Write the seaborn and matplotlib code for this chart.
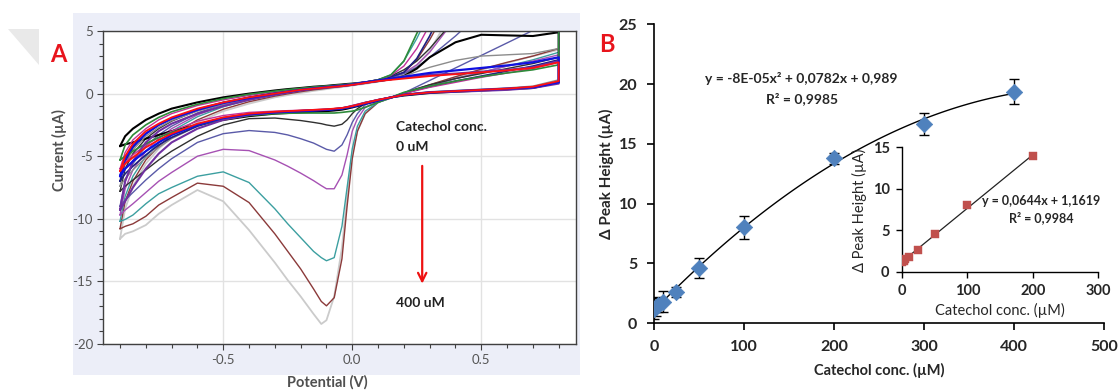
import numpy as np
import pandas as pd
import matplotlib
matplotlib.use("Agg")
import matplotlib.pyplot as plt
from matplotlib.ticker import MultipleLocator
from matplotlib.patches import Rectangle, Polygon
import seaborn as sns

# ---------------- Panel A data: cyclic voltammograms ----------------
POTENTIAL = [-0.90, -0.88, -0.85, -0.80, -0.75, -0.70, -0.60, -0.50, -0.40, -0.30,
             -0.25, -0.20, -0.15, -0.12, -0.10, -0.07, -0.04, -0.02, 0.00, 0.02,
             0.05, 0.10, 0.15, 0.20, 0.25, 0.30, 0.40, 0.50, 0.60, 0.70, 0.80]

RED_FWD = [-6.2, -5.0, -4.0, -3.0, -2.4, -1.9, -1.2, -0.7, -0.3, 0.0, 0.15, 0.3, 0.4, 0.46, 0.5, 0.55, 0.6, 0.65, 0.7, 0.76, 0.85, 1.0, 1.1, 1.2, 1.3, 1.4, 1.55, 1.7, 1.85, 2.05, 2.5]
RED_REV = [-6.2, -5.6, -5.1, -4.3, -3.7, -3.2, -2.4, -1.9, -1.6, -1.45, -1.4, -1.35, -1.3, -1.27, -1.25, -1.2, -1.15, -1.08, -1.0, -0.9, -0.75, -0.5, -0.3, -0.1, 0.0, 0.1, 0.2, 0.3, 0.4, 0.55, 1.0]
BLUE_FWD = [-6.6, -5.2, -4.2, -3.2, -2.5, -2.0, -1.3, -0.75, -0.35, 0.0, 0.15, 0.3, 0.42, 0.48, 0.52, 0.58, 0.63, 0.68, 0.72, 0.8, 0.9, 1.05, 1.2, 1.35, 1.5, 1.65, 1.85, 2.05, 2.25, 2.5, 2.9]
BLUE_REV = [-6.6, -6.0, -5.4, -4.6, -3.9, -3.3, -2.5, -1.95, -1.65, -1.5, -1.45, -1.4, -1.35, -1.32, -1.3, -1.25, -1.2, -1.12, -1.05, -0.95, -0.8, -0.55, -0.3, -0.1, 0.0, 0.1, 0.2, 0.3, 0.4, 0.5, 0.9]
PURPLE_FWD = [-9.3, -7.0, -5.4, -3.9, -3.0, -2.4, -1.6, -1.0, -0.5, -0.1, 0.08, 0.25, 0.38, 0.44, 0.48, 0.55, 0.6, 0.65, 0.7, 0.76, 0.85, 1.0, 1.15, 1.3, 1.4, 1.5, 1.6, 1.75, 1.9, 2.1, 2.6]
PURPLE_REV = [-9.3, -8.6, -7.5, -6.0, -4.8, -3.9, -2.8, -2.1, -1.7, -1.5, -1.44, -1.38, -1.32, -1.3, -1.28, -1.23, -1.17, -1.1, -1.0, -0.9, -0.75, -0.5, -0.3, -0.1, 0.0, 0.08, 0.15, 0.22, 0.3, 0.45, 0.8]
GRAY_FWD = [-7.4, -5.6, -4.5, -3.4, -2.7, -2.15, -1.4, -0.85, -0.4, -0.05, 0.12, 0.28, 0.4, 0.46, 0.5, 0.56, 0.62, 0.67, 0.72, 0.79, 0.88, 1.05, 1.2, 1.4, 1.75, 2.1, 2.65, 3.0, 3.1, 3.2, 3.6]
GRAY_REV = [-7.4, -6.8, -6.1, -5.1, -4.3, -3.6, -2.6, -2.0, -1.65, -1.45, -1.4, -1.35, -1.3, -1.27, -1.25, -1.2, -1.15, -1.05, -0.95, -0.85, -0.7, -0.48, -0.3, -0.1, 0.05, 0.15, 0.25, 0.35, 0.45, 0.6, 1.1]
BLACK_FWD = [-4.2, -3.4, -2.8, -2.1, -1.6, -1.2, -0.7, -0.3, 0.0, 0.25, 0.36, 0.45, 0.55, 0.59, 0.62, 0.68, 0.73, 0.77, 0.8, 0.84, 0.9, 1.0, 1.15, 1.4, 2.0, 2.9, 4.1, 4.7, 4.65, 4.6, 4.9]
BLACK_REV = [-4.2, -4.05, -3.9, -3.6, -3.3, -3.0, -2.5, -2.1, -1.8, -1.6, -1.55, -1.5, -1.45, -1.42, -1.4, -1.35, -1.28, -1.2, -1.1, -1.0, -0.8, -0.55, -0.3, -0.15, -0.05, 0.05, 0.15, 0.25, 0.35, 0.45, 0.9]
GREEN_FWD = [-5.3, -4.1, -3.3, -2.5, -1.9, -1.45, -0.85, -0.4, -0.05, 0.2, 0.32, 0.42, 0.52, 0.57, 0.6, 0.65, 0.7, 0.74, 0.78, 0.83, 0.9, 1.1, 1.5, 2.6, 4.8, 7.0, 9.0, 9.0, 9.0, 9.0, 9.0]
GREEN_REV = [-5.3, -5.0, -4.6, -4.0, -3.5, -3.1, -2.5, -2.05, -1.75, -1.6, -1.57, -1.55, -1.55, -1.55, -1.55, -1.55, -1.5, -1.45, -1.4, -1.3, -1.1, -0.7, -0.3, 0.1, 0.35, 0.6, 1.0, 1.35, 1.65, 1.9, 2.3]
MAGENTA_FWD = [-6.0, -4.7, -3.7, -2.8, -2.1, -1.6, -0.95, -0.5, -0.15, 0.15, 0.28, 0.4, 0.5, 0.55, 0.58, 0.64, 0.69, 0.73, 0.78, 0.84, 0.92, 1.1, 1.45, 2.2, 3.6, 5.5, 9.0, 9.0, 9.0, 9.0, 9.0]
MAGENTA_REV = [-6.0, -5.5, -4.9, -4.1, -3.5, -3.0, -2.2, -1.75, -1.5, -1.4, -1.36, -1.33, -1.28, -1.26, -1.24, -1.2, -1.13, -1.05, -0.95, -0.85, -0.7, -0.48, -0.3, 0.0, 0.25, 0.5, 0.9, 1.3, 1.65, 2.0, 2.5]
NAVY_FWD = [-7.0, -5.4, -4.3, -3.2, -2.5, -2.0, -1.25, -0.7, -0.3, 0.05, 0.2, 0.35, 0.47, 0.52, 0.56, 0.62, 0.67, 0.72, 0.77, 0.83, 0.92, 1.1, 1.35, 1.7, 2.8, 4.6, 9.0, 9.0, 9.0, 9.0, 9.0]
NAVY_REV = [-7.0, -6.4, -5.8, -4.9, -4.1, -3.5, -2.6, -2.0, -1.7, -1.5, -1.46, -1.42, -1.36, -1.33, -1.3, -1.25, -1.18, -1.1, -1.0, -0.9, -0.72, -0.5, -0.3, 0.0, 0.3, 0.55, 1.0, 1.4, 1.8, 2.2, 2.7]
DARK_FWD = [-7.8, -6.0, -4.8, -3.6, -2.8, -2.2, -1.35, -0.75, -0.3, 0.05, 0.2, 0.35, 0.47, 0.52, 0.56, 0.62, 0.67, 0.72, 0.77, 0.83, 0.92, 1.1, 1.4, 1.9, 2.6, 3.6, 6.0, 9.0, 9.0, 9.0, 9.0]
DARK_REV = [-7.8, -7.4, -6.9, -6.1, -5.3, -4.6, -3.4, -2.5, -2.0, -1.95, -2.05, -2.15, -2.3, -2.4, -2.5, -2.6, -2.45, -2.1, -1.6, -1.2, -0.8, -0.5, -0.3, 0.05, 0.4, 0.7, 1.2, 1.6, 2.0, 2.4, 2.9]
SLATE_FWD = [-9.0, -7.0, -5.6, -4.2, -3.3, -2.6, -1.55, -0.85, -0.38, 0.0, 0.17, 0.33, 0.45, 0.51, 0.55, 0.6, 0.66, 0.71, 0.76, 0.82, 0.9, 1.07, 1.3, 1.6, 2.1, 2.9, 4.6, 6.5, 8.0, 9.0, 9.0]
SLATE_REV = [-9.0, -8.5, -7.9, -6.9, -6.0, -5.2, -3.9, -3.2, -2.95, -3.1, -3.3, -3.6, -3.95, -4.25, -4.45, -4.6, -4.1, -3.3, -2.3, -1.6, -0.9, -0.55, -0.35, 0.05, 0.55, 1.05, 2.05, 3.05, 4.05, 5.05, 6.05]
ORCHID_FWD = [-9.7, -7.6, -6.1, -4.6, -3.6, -2.8, -1.7, -0.95, -0.45, -0.05, 0.13, 0.3, 0.43, 0.49, 0.52, 0.58, 0.64, 0.69, 0.74, 0.8, 0.88, 1.05, 1.3, 1.65, 2.3, 3.3, 6.0, 9.0, 9.0, 9.0, 9.0]
ORCHID_REV = [-9.7, -9.3, -8.8, -7.9, -7.0, -6.3, -5.0, -4.45, -4.55, -5.3, -5.8, -6.35, -6.95, -7.35, -7.6, -7.6, -6.5, -4.9, -3.0, -2.0, -1.1, -0.6, -0.3, 0.05, 0.35, 0.65, 1.2, 1.7, 2.2, 2.6, 3.1]
TEAL_FWD = [-10.2, -8.2, -6.6, -5.0, -3.9, -3.0, -1.85, -1.05, -0.5, -0.1, 0.08, 0.25, 0.4, 0.46, 0.5, 0.56, 0.62, 0.67, 0.72, 0.78, 0.88, 1.1, 1.5, 2.6, 4.4, 6.5, 9.0, 9.0, 9.0, 9.0, 9.0]
TEAL_REV = [-10.2, -10.05, -9.7, -8.8, -8.0, -7.5, -6.6, -6.25, -7.1, -9.2, -10.4, -11.5, -12.6, -13.1, -13.35, -13.1, -10.6, -7.5, -4.4, -2.6, -1.4, -0.7, -0.35, 0.0, 0.3, 0.6, 1.2, 1.7, 2.2, 2.7, 3.3]
BROWN_FWD = [-10.8, -8.6, -7.0, -5.3, -4.2, -3.3, -2.1, -1.25, -0.65, -0.2, -0.02, 0.15, 0.3, 0.37, 0.42, 0.5, 0.57, 0.62, 0.68, 0.74, 0.82, 1.0, 1.25, 1.7, 2.7, 4.3, 8.0, 9.0, 9.0, 9.0, 9.0]
BROWN_REV = [-10.8, -10.6, -10.4, -9.8, -8.9, -8.3, -7.15, -7.4, -8.7, -11.2, -12.6, -14.0, -15.6, -16.6, -16.95, -16.3, -13.2, -9.0, -5.2, -3.0, -1.6, -0.7, -0.35, 0.0, 0.35, 0.7, 1.35, 1.95, 2.5, 3.0, 3.6]
LIGHT_FWD = [-11.6, -9.2, -7.4, -5.6, -4.4, -3.5, -2.3, -1.4, -0.8, -0.3, -0.12, 0.05, 0.22, 0.3, 0.36, 0.45, 0.52, 0.58, 0.64, 0.7, 0.78, 0.95, 1.15, 1.5, 2.2, 3.4, 7.0, 9.0, 9.0, 9.0, 9.0]
LIGHT_REV = [-11.6, -11.2, -11.0, -10.5, -9.6, -8.9, -7.7, -8.6, -10.9, -13.5, -14.9, -16.2, -17.6, -18.4, -18.1, -16.2, -12.3, -8.3, -4.8, -3.0, -1.6, -0.7, -0.35, 0.0, 0.35, 0.7, 1.3, 1.9, 2.45, 3.0, 3.5]

# ---------------- Panel B data ----------------
CONC = [0, 2.5, 5, 10, 25, 50, 100, 200, 300, 400]
DPH = [1.2, 1.35, 1.5, 1.8, 2.6, 4.6, 8.0, 13.8, 16.65, 19.35]
DPH_ERR = [0.9, 0.8, 0.6, 0.85, 0.45, 0.85, 0.93, 0.45, 0.9, 1.05]
INSET_CONC = [0, 2.5, 5, 10, 25, 50, 100, 200]
INSET_DPH = [1.2, 1.35, 1.5, 1.8, 2.65, 4.6, 8.0, 13.9]

EQ_MAIN = ["y = -8E-05x² + 0,0782x + 0,989", "R² = 0,9985"]
EQ_INSET = ["y = 0,0644x + 1,1619", "R² = 0,9984"]

# ---------------- style ----------------
sns.set_style("white")
plt.rcParams["font.family"] = ["Lato", "DejaVu Sans"]
plt.rcParams["axes.unicode_minus"] = False

fig = plt.figure(figsize=(11.2, 3.92), dpi=100)

# background for panel A (drawn behind the axes)
bg = Rectangle((0.0652, 0.0434), 0.4527, 0.9234, transform=fig.transFigure,
               facecolor="#eceef8", edgecolor="none", zorder=-10)
fig.add_artist(bg)
tri = Polygon([(0.007, 0.926), (0.035, 0.926), (0.035, 0.834)], closed=True,
              transform=fig.transFigure, facecolor="#e9e9e9", edgecolor="none", zorder=-10)
fig.add_artist(tri)

# ---------------- Panel A ----------------
curves = [
    ("light", LIGHT_FWD, LIGHT_REV, "#cbcbcb", 1.3),
    ("brown", BROWN_FWD, BROWN_REV, "#8b3a3a", 1.0),
    ("teal", TEAL_FWD, TEAL_REV, "#3c9fa0", 1.0),
    ("orchid", ORCHID_FWD, ORCHID_REV, "#a651b3", 1.0),
    ("slate", SLATE_FWD, SLATE_REV, "#5a5aa8", 1.0),
    ("dark", DARK_FWD, DARK_REV, "#303030", 1.0),
    ("black", BLACK_FWD, BLACK_REV, "#000000", 1.5),
    ("gray", GRAY_FWD, GRAY_REV, "#8c8c8c", 1.0),
    ("navy", NAVY_FWD, NAVY_REV, "#1f1f80", 1.2),
    ("magenta", MAGENTA_FWD, MAGENTA_REV, "#c0309a", 1.0),
    ("green", GREEN_FWD, GREEN_REV, "#2e8b3a", 1.2),
    ("purple", PURPLE_FWD, PURPLE_REV, "#7030a0", 1.5),
    ("blue", BLUE_FWD, BLUE_REV, "#1010e0", 1.6),
    ("red", RED_FWD, RED_REV, "#ff1010", 1.3),
]
rows = []
for name, fwd, rev, _, _ in curves:
    E = list(POTENTIAL) + list(POTENTIAL[::-1])
    I = list(fwd) + list(rev[::-1])
    for i, (e, c) in enumerate(zip(E, I)):
        rows.append({"E": e, "I": c, "curve": name, "step": i})
dfA = pd.DataFrame(rows)
palette = {c[0]: c[3] for c in curves}
sizes = {c[0]: c[4] for c in curves}
order = [c[0] for c in curves]

axA = fig.add_axes([0.0917, 0.1224, 0.4226, 0.7985])
axA.set_facecolor("white")
sns.lineplot(data=dfA, x="E", y="I", hue="curve", size="curve", hue_order=order,
             size_order=order, palette=palette, sizes=sizes, sort=False,
             estimator=None, legend=False, ax=axA)
axA.set_xlim(-0.967, 0.867)
axA.set_ylim(-20, 5)
axA.xaxis.set_major_locator(MultipleLocator(0.5))
axA.xaxis.set_minor_locator(MultipleLocator(0.1))
axA.yaxis.set_major_locator(MultipleLocator(5))
axA.yaxis.set_minor_locator(MultipleLocator(1))
axA.xaxis.set_major_formatter(matplotlib.ticker.FormatStrFormatter("%.1f"))
axA.grid(True, which="major", color="#e2e2e2", lw=1)
axA.set_axisbelow(True)
for s in axA.spines.values():
    s.set_color("#404040")
    s.set_linewidth(1)
axA.tick_params(axis="both", which="major", direction="out", length=4, width=0.8,
                color="#404040", labelcolor="#555555", labelsize=9.5, pad=3,
                bottom=True, left=True)
axA.tick_params(axis="both", which="minor", direction="out", length=3, width=0.8,
                color="#404040", bottom=True, left=True)
axA.set_xlabel("Potential (V)", fontsize=10.5, fontweight="bold", color="#505050")
axA.set_ylabel("Current (µA)", fontsize=10.5, fontweight="bold", color="#505050")
axA.xaxis.set_label_coords(0.474, -0.10)
axA.yaxis.set_label_coords(-0.075, 0.62)

axA.text(0.169, -2.63, "Catechol conc.", fontsize=10, fontweight="bold", color="#222222",
         ha="left", va="center")
axA.text(0.169, -4.27, "0 uM", fontsize=10, fontweight="bold", color="#222222",
         ha="left", va="center")
axA.text(0.169, -16.7, "400 uM", fontsize=10, fontweight="bold", color="#222222",
         ha="left", va="center")
axA.annotate("", xy=(0.271, -15.4), xytext=(0.271, -5.55),
             arrowprops=dict(arrowstyle="->,head_length=0.6,head_width=0.3",
                             color="#ee1111", lw=1.6))
fig.text(58 / 1120, 1 - 55 / 392, "A", color="#e8141c", fontsize=17, fontweight="bold",
         ha="center", va="center")

# ---------------- Panel B ----------------
axB = fig.add_axes([0.5839, 0.176, 0.4018, 0.762])
axB.set_facecolor("white")
axB.errorbar(CONC, DPH, yerr=DPH_ERR, fmt="none", ecolor="black", elinewidth=1,
             capsize=3.5, capthick=1, zorder=2)
sns.regplot(x=CONC, y=DPH, order=2, ci=None, scatter=False, ax=axB,
            line_kws=dict(color="black", lw=1.0, zorder=3))
sns.scatterplot(x=CONC, y=DPH, marker="D", s=70, color="#4f81bd", edgecolor="#4f81bd",
                linewidth=0.5, ax=axB, zorder=4)
axB.set_xlim(0, 500)
axB.set_ylim(0, 25)
axB.xaxis.set_major_locator(MultipleLocator(100))
axB.yaxis.set_major_locator(MultipleLocator(5))
for side in ["top", "right"]:
    axB.spines[side].set_visible(False)
for side in ["left", "bottom"]:
    axB.spines[side].set_color("black")
    axB.spines[side].set_linewidth(1.2)
axB.tick_params(axis="both", direction="out", length=5, width=1.2, color="black",
                labelsize=11.5, pad=7, bottom=True, left=True)
for lab in axB.get_xticklabels() + axB.get_yticklabels():
    lab.set_fontweight("bold")
axB.set_xlabel("Catechol conc. (µM)", fontsize=10.5, fontweight="bold")
axB.set_ylabel("Δ Peak Height (µA)", fontsize=11, fontweight="bold")
axB.xaxis.set_label_coords(0.5, -0.134)
axB.yaxis.set_label_coords(-0.089, 0.5)
axB.text(164, 20.5, EQ_MAIN[0], fontsize=10, fontweight="bold", ha="center", va="center")
axB.text(164, 18.8, EQ_MAIN[1], fontsize=10, fontweight="bold", ha="center", va="center")
fig.text(607 / 1120, 1 - 45 / 392, "B", color="#e8141c", fontsize=17, fontweight="bold",
         ha="center", va="center")

# inset
axI = fig.add_axes([0.8054, 0.3069, 0.175, 0.3173])
axI.patch.set_alpha(0)
sns.regplot(x=INSET_CONC, y=INSET_DPH, order=1, ci=None, scatter=False, ax=axI,
            line_kws=dict(color="#222222", lw=0.9))
sns.scatterplot(x=INSET_CONC, y=INSET_DPH, marker="s", s=28, color="#c0504d",
                edgecolor="#c0504d", linewidth=0.3, ax=axI, zorder=4)
axI.set_xlim(0, 300)
axI.set_ylim(0, 15)
axI.xaxis.set_major_locator(MultipleLocator(100))
axI.yaxis.set_major_locator(MultipleLocator(5))
for side in ["top", "right"]:
    axI.spines[side].set_visible(False)
for side in ["left", "bottom"]:
    axI.spines[side].set_color("black")
    axI.spines[side].set_linewidth(1.0)
axI.tick_params(axis="both", direction="out", length=4, width=1.0, color="black",
                labelsize=10.5, pad=5, bottom=True, left=True)
for lab in axI.get_xticklabels() + axI.get_yticklabels():
    lab.set_fontweight("bold")
axI.set_xlabel("Catechol conc. (µM)", fontsize=10.5)
axI.set_ylabel("Δ Peak Height (µA)", fontsize=10.5)
axI.xaxis.set_label_coords(0.5, -0.252)
axI.yaxis.set_label_coords(-0.179, 0.496)
axI.text(213, 8.5, EQ_INSET[0], fontsize=9, fontweight="bold", ha="center", va="center")
axI.text(213, 6.5, EQ_INSET[1], fontsize=9, fontweight="bold", ha="center", va="center")

fig.savefig("out.png", dpi=100)
